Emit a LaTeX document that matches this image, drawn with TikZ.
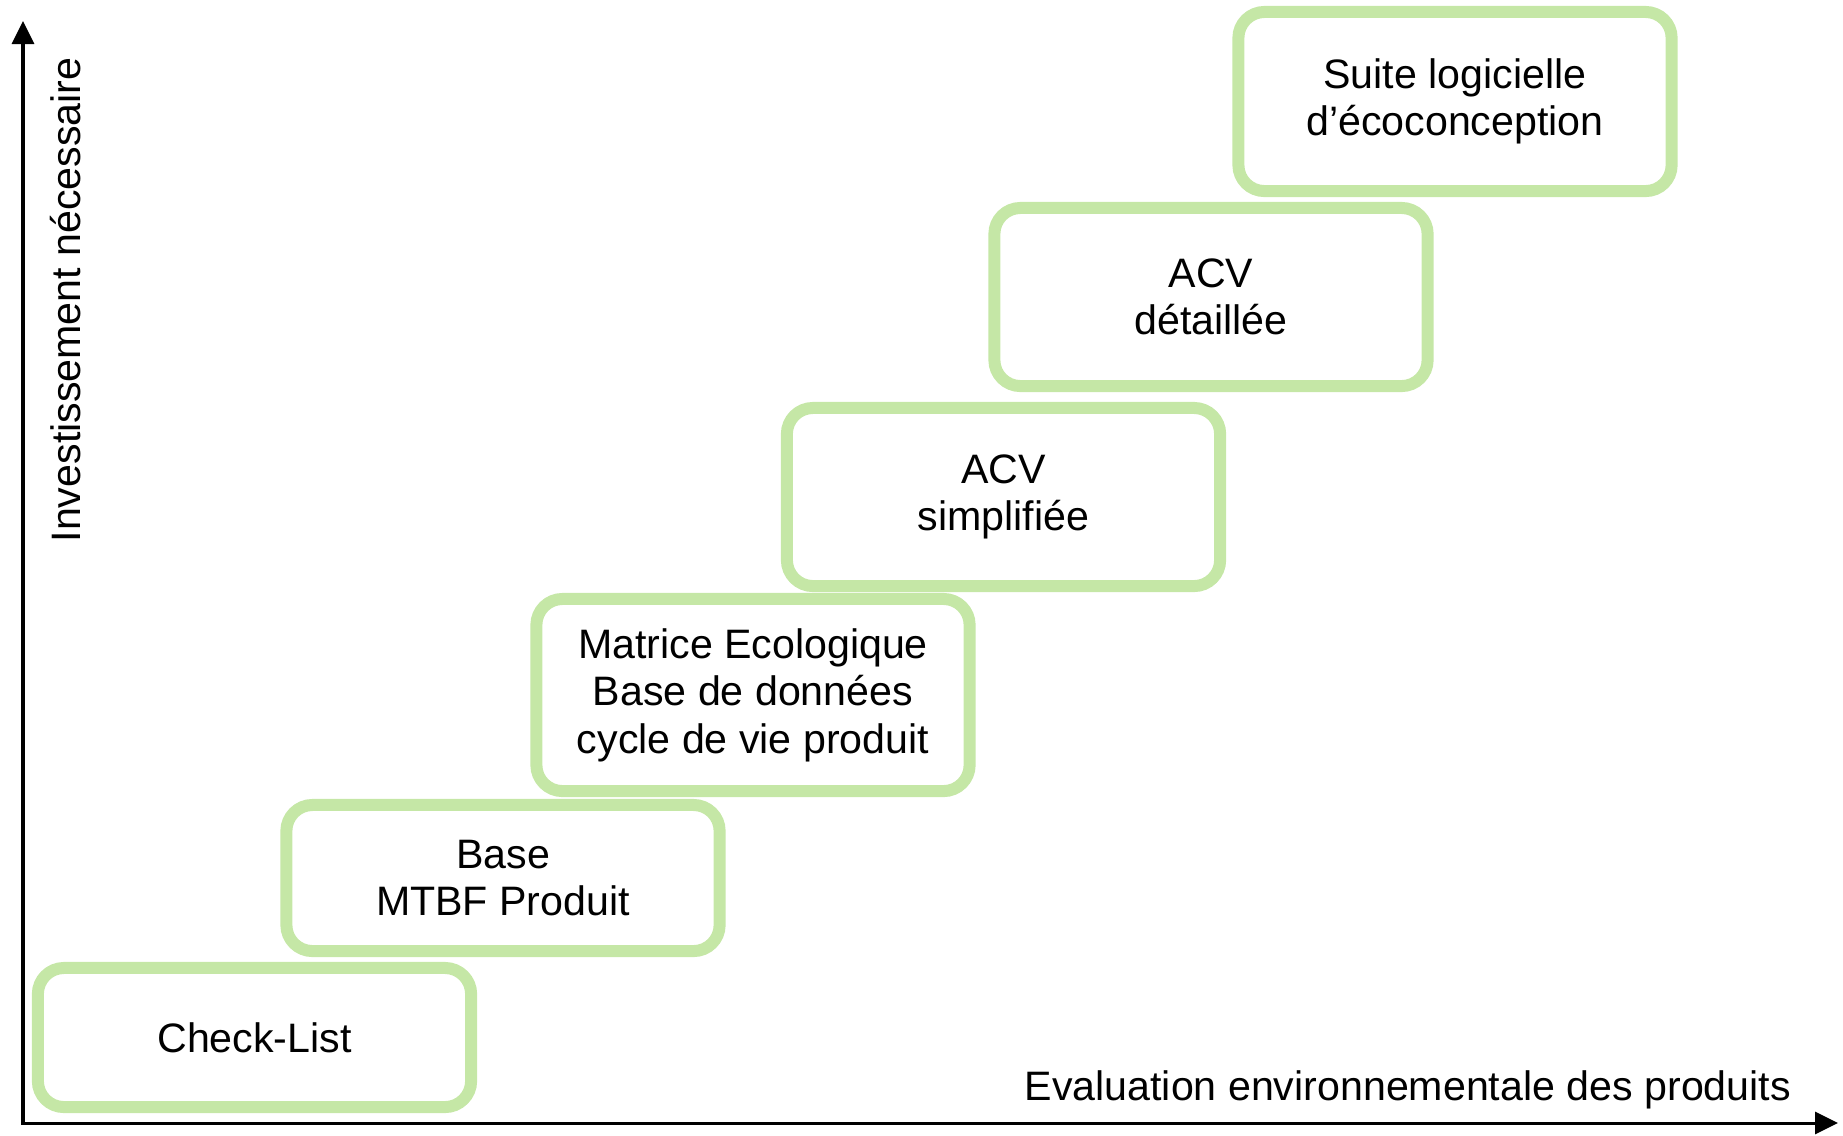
\documentclass[tikz,border=0pt]{standalone}
\usepackage{fontspec}
\setmainfont{Liberation Sans}
\usetikzlibrary{arrows.meta}
\definecolor{stepgreen}{RGB}{197,231,166}
\begin{document}
\begin{tikzpicture}[x=0.01cm, y=-0.01cm,
  stage/.style={draw=stepgreen, line width=0.12cm, rounded corners=0.26cm, align=center, inner sep=0pt, outer sep=0pt, minimum width=4.33cm, font=\fontsize{11.7pt}{13.5pt}\selectfont},
  axis/.style={line width=0.03cm, {Triangle[length=0.23cm,width=0.22cm]}-{Triangle[length=0.23cm,width=0.22cm]}},
  axislabel/.style={inner sep=0pt, font=\fontsize{11.7pt}{13.5pt}\selectfont}]
\useasboundingbox (0,0) rectangle (1843,1135);
%axes
\coordinate (origin) at (23,1123);
\coordinate (ytip) at (23,21);
\coordinate (xtip) at (1838,1123);
\draw[axis] (ytip) -- (origin) -- (xtip);
\node[axislabel, anchor=base west, rotate=90] (ylab) at (80,543) {Investissement nécessaire};
\node[axislabel, anchor=base west] (xlab) at (1024,1100) {Evaluation environnementale des produits};
%stages
\node[stage, minimum height=1.39cm] (check) at (254.5,1037.5) {Check-List};
\node[stage, minimum height=1.46cm] (mtbf) at (503,878) {Base\\MTBF Produit};
\node[stage, minimum height=1.92cm] (matrice) at (753,695) {Matrice Ecologique\\Base de données\\cycle de vie produit};
\node[stage, minimum height=1.78cm] (acvs) at (1003.5,497) {ACV\\simplifiée};
\node[stage, minimum height=1.78cm] (acvd) at (1211,297) {ACV\\détaillée};
\node[stage, minimum height=1.79cm] (suite) at (1455,101.5) {Suite logicielle\\d’écoconception};
\end{tikzpicture}
\end{document}
